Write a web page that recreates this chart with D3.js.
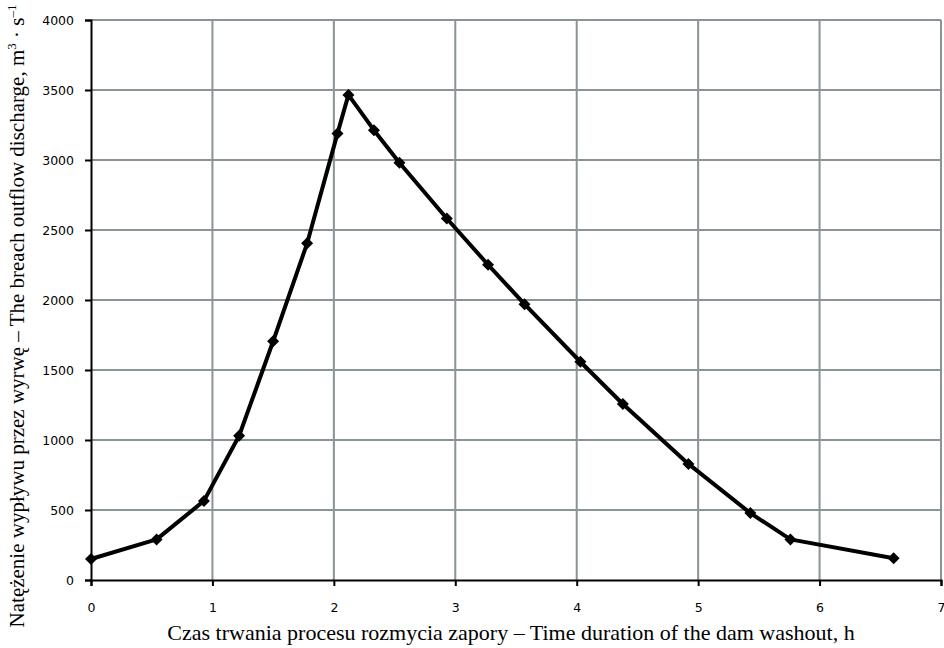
<!DOCTYPE html>
<html>
<head>
<meta charset="utf-8">
<script src="https://cdn.jsdelivr.net/npm/d3@7"></script>
<style>
    body { margin: 0; background: #fff; }
    .tick text { font-family: 'DejaVu Sans', sans-serif; font-size: 12.5px; fill: #000; }
    .axis-title { font-family: 'Liberation Serif', 'Times New Roman', serif; font-size: 22px; fill: #000; }
</style>
</head>
<body>
<div class="chart"></div>
<script>
// time of the washout, h
var hours = [0, 0.54, 0.93, 1.22, 1.5, 1.78, 2.03, 2.12, 2.33, 2.54, 2.93, 3.27, 3.57, 4.03, 4.38, 4.92, 5.43, 5.76, 6.61];
// breach outflow discharge, m3/s
var discharge = [150, 290, 565, 1030, 1705, 2405, 3190, 3465, 3213, 2980, 2582, 2252, 1970, 1559, 1257, 829, 478, 290, 155];

var xTicks = [0, 1, 2, 3, 4, 5, 6, 7];
var yTicks = [0, 500, 1000, 1500, 2000, 2500, 3000, 3500, 4000];

var width = 944;
var height = 648;
var margin = { top: 20, right: 3, bottom: 68, left: 91 };

var svg = d3.select('.chart')
    .append('svg')
    .attr('width', width)
    .attr('height', height);

var x = d3.scaleLinear()
    .domain([0, 7])
    .range([margin.left, width - margin.right]);

var y = d3.scaleLinear()
    .domain([0, 4000])
    .range([height - margin.bottom, margin.top]);

// grid
svg.append('g')
    .selectAll('line')
    .data(yTicks.slice(1))
    .enter()
    .append('line')
    .attr('x1', x(0))
    .attr('x2', x(7))
    .attr('y1', function(d) { return y(d); })
    .attr('y2', function(d) { return y(d); })
    .attr('stroke', '#8a9395')
    .attr('stroke-width', 2);

svg.append('g')
    .selectAll('line')
    .data(xTicks.slice(1))
    .enter()
    .append('line')
    .attr('x1', function(d) { return x(d); })
    .attr('x2', function(d) { return x(d); })
    .attr('y1', y(4000))
    .attr('y2', y(0))
    .attr('stroke', '#8a9395')
    .attr('stroke-width', 2);

// axes
var xAxis = svg.append('g')
    .attr('transform', 'translate(0,' + y(0) + ')')
    .call(d3.axisBottom(x).tickValues(xTicks).tickFormat(d3.format('d')).tickSize(6).tickPadding(17));

var yAxis = svg.append('g')
    .attr('transform', 'translate(' + x(0) + ',0)')
    .call(d3.axisLeft(y).tickValues(yTicks).tickFormat(d3.format('d')).tickSize(6).tickPadding(11));

[xAxis, yAxis].forEach(function(a) {
    a.select('.domain').attr('stroke', '#000').attr('stroke-width', 2);
    a.selectAll('.tick line').attr('stroke', '#000').attr('stroke-width', 2);
});

// series
var pts = hours.map(function(h, i) { return [h, discharge[i]]; });

svg.append('path')
    .datum(pts)
    .attr('fill', 'none')
    .attr('stroke', '#000')
    .attr('stroke-width', 4)
    .attr('stroke-linejoin', 'round')
    .attr('d', d3.line()
        .x(function(d) { return x(d[0]); })
        .y(function(d) { return y(d[1]); }));

svg.append('g')
    .selectAll('path')
    .data(pts)
    .enter()
    .append('path')
    .attr('d', d3.symbol(d3.symbolSquare, 72))
    .attr('fill', '#000')
    .attr('transform', function(d) {
        return 'translate(' + x(d[0]) + ',' + y(d[1]) + ') rotate(45)';
    });

// titles
svg.append('text')
    .attr('class', 'axis-title')
    .attr('x', (x(0) + x(7)) / 2 - 5)
    .attr('y', 640)
    .attr('text-anchor', 'middle')
    .text('Czas trwania procesu rozmycia zapory – Time duration of the dam washout, h');

var yTitle = svg.append('text')
    .attr('class', 'axis-title')
    .style('font-size', '21px')
    .attr('transform', 'translate(24,316) rotate(-90)')
    .attr('text-anchor', 'middle');

yTitle.append('tspan').text('Natężenie wypływu przez wyrwę – The breach outflow discharge, m');
yTitle.append('tspan').attr('dy', -8).style('font-size', '13px').text('3');
yTitle.append('tspan').attr('dy', 8).text(' · s');
yTitle.append('tspan').attr('dy', -8).style('font-size', '13px').text('–1');
</script>
</body>
</html>
